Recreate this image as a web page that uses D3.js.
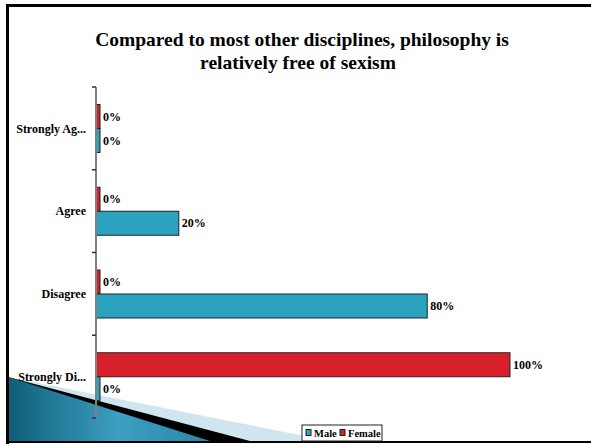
<!DOCTYPE html>
<html>
<head>
<meta charset="utf-8">
<script src="https://cdn.jsdelivr.net/npm/d3@7"></script>
<style>
  body { margin: 0; background: #fff; }
  svg { display: block; font-family: "Liberation Serif", "Times New Roman", serif; }
</style>
</head>
<body>
<svg width="591" height="444"></svg>
<script>
// answers, top to bottom
let categories = ["Strongly Agree", "Agree", "Disagree", "Strongly Disagree"];
let shortLabels = ["Strongly Ag...", "Agree", "Disagree", "Strongly Di..."];
let series = ["Female", "Male"];
let male = [0, 20, 80, 0];
let female = [0, 0, 0, 100];
let colors = { Male: "#2aa2c0", Female: "#d8202b" };

let svg = d3.select("svg");
let defs = svg.append("defs");

// slide decoration in the bottom left corner
let grad = defs.append("linearGradient").attr("id", "teal")
  .attr("x1", 0).attr("y1", 0).attr("x2", 1).attr("y2", 0);
grad.append("stop").attr("offset", "0%").attr("stop-color", "#0f5e78");
grad.append("stop").attr("offset", "55%").attr("stop-color", "#3d9fc2");
grad.append("stop").attr("offset", "100%").attr("stop-color", "#2a86a8");

let deco = svg.append("g");
deco.append("path").attr("d", "M8,377 L330,441 L8,441 Z").attr("fill", "#cfe6f0");
deco.append("path").attr("d", "M8,377 L250,441 L8,441 Z").attr("fill", "#000");
deco.append("path").attr("d", "M8,377 L210,441 L8,441 Z").attr("fill", "url(#teal)");

// frame
svg.append("rect").attr("x", 6).attr("y", 4).attr("width", 600).attr("height", 3).attr("fill", "#000");
svg.append("rect").attr("x", 6).attr("y", 4).attr("width", 3).attr("height", 445).attr("fill", "#000");
svg.append("rect").attr("x", 6).attr("y", 441).attr("width", 600).attr("height", 2).attr("fill", "#000");

// title
let title = svg.append("text")
  .attr("text-anchor", "middle")
  .style("font-weight", "bold")
  .style("font-size", "19.5px");
title.append("tspan").attr("x", 302).attr("y", 46).text("Compared to most other disciplines, philosophy is");
title.append("tspan").attr("x", 298).attr("y", 69).text("relatively free of sexism");

let x = d3.scaleLinear().domain([0, 100]).range([96, 510]);
let y = d3.scaleBand().domain(categories).range([87, 418]);
let yInner = d3.scaleBand().domain(series).range([17.5, 65.5]);

let rows = categories.map((c, i) => ({ cat: c, Male: male[i], Female: female[i] }));

let g = svg.append("g");

// bars
let groups = g.selectAll(".grp")
  .data(rows)
  .join("g")
  .attr("class", "grp")
  .attr("transform", (d) => `translate(0,${y(d.cat)})`);

groups.selectAll("rect")
  .data((d) => series.map((s) => ({ s: s, v: d[s] })))
  .join("rect")
  .attr("x", x(0))
  .attr("y", (d) => yInner(d.s))
  .attr("width", (d) => Math.max(x(d.v) - x(0), 4))
  .attr("height", yInner.bandwidth())
  .style("fill", (d) => colors[d.s])
  .style("stroke", "#222")
  .style("stroke-width", 1);

groups.selectAll("text")
  .data((d) => series.map((s) => ({ s: s, v: d[s] })))
  .join("text")
  .attr("x", (d) => Math.max(x(d.v), x(0) + 4) + 3)
  .attr("y", (d) => yInner(d.s) + yInner.bandwidth() / 2)
  .attr("dy", "0.35em")
  .style("font-weight", "bold")
  .style("font-size", "12px")
  .text((d) => d.v + "%");

// category axis
let axisG = g.append("g").attr("transform", `translate(${x(0)},0)`);
axisG.append("line")
  .attr("y1", 87).attr("y2", 418)
  .style("stroke", "#808080").style("stroke-width", 2);
axisG.selectAll(".tick")
  .data(categories.concat(["end"]))
  .join("line")
  .attr("class", "tick")
  .attr("x1", -4).attr("x2", 0)
  .attr("y1", (d) => (d === "end" ? 418 : y(d)))
  .attr("y2", (d) => (d === "end" ? 418 : y(d)))
  .style("stroke", "#333").style("stroke-width", 1.5);

axisG.selectAll(".lab")
  .data(categories)
  .join("text")
  .attr("class", "lab")
  .attr("x", -10)
  .attr("y", (d) => y(d) + y.bandwidth() / 2)
  .attr("dy", "0.35em")
  .attr("text-anchor", "end")
  .style("font-weight", "bold")
  .style("font-size", "12px")
  .text((d, i) => shortLabels[i]);

// legend
let legend = svg.append("g").attr("transform", "translate(302,425)");
legend.append("rect")
  .attr("width", 80).attr("height", 16)
  .style("fill", "#fff").style("stroke", "#222").style("stroke-width", 1);
let legendItems = [["Male", 4], ["Female", 38]];
legendItems.forEach(([s, ox]) => {
  legend.append("rect")
    .attr("x", ox).attr("y", 4.5).attr("width", 5).attr("height", 6)
    .style("fill", colors[s]).style("stroke", "#222").style("stroke-width", 1);
  legend.append("text")
    .attr("x", ox + 8).attr("y", 12)
    .style("font-weight", "bold").style("font-size", "10.5px")
    .text(s);
});
</script>
</body>
</html>
